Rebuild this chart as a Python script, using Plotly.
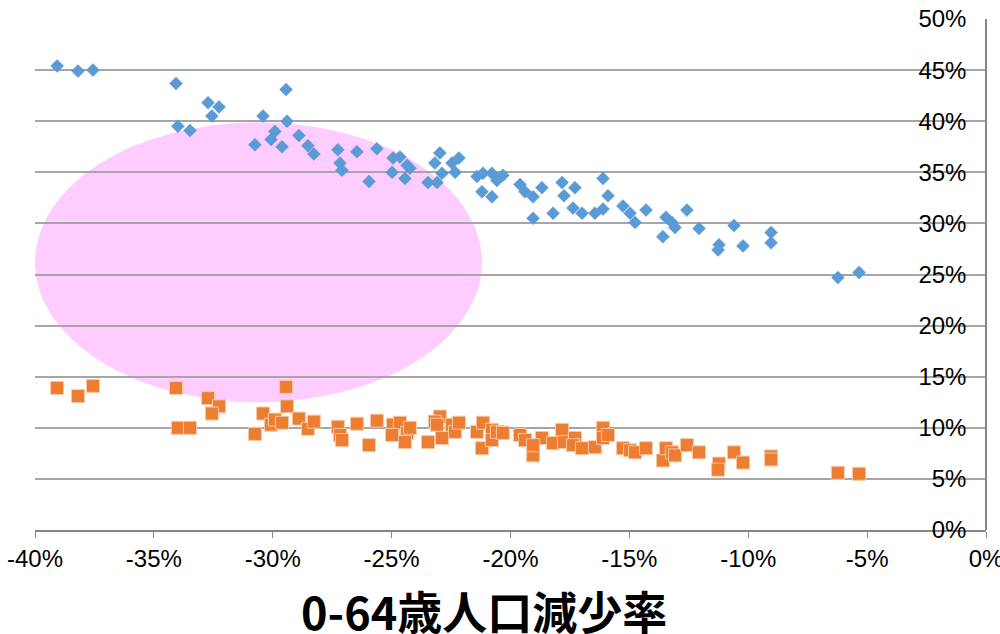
import plotly.graph_objects as go

# 0-64歳人口減少率 (x) vs rates (y), in percent
blue_x = [-39.07, -38.19, -37.56, -34.07, -33.99, -33.48, -32.72, -32.26, -32.56, -30.75,
          -30.41, -30.07, -29.91, -29.61, -29.44, -29.40, -28.90, -28.52, -28.27, -27.26,
          -27.17, -27.09, -26.46, -25.62, -25.95, -24.94, -24.65, -24.35, -24.23, -24.98,
          -24.44, -22.97, -23.18, -22.88, -23.47, -23.09, -22.46, -22.33, -22.17, -21.41,
          -21.16, -21.20, -20.78, -20.78, -20.57, -20.32, -19.60, -19.39, -19.05, -18.68,
          -19.05, -18.21, -17.83, -17.75, -17.29, -17.37, -16.99, -16.45, -16.11, -16.11,
          -15.90, -15.27, -14.97, -14.76, -14.30, -13.59, -13.46, -13.21, -13.08, -12.58,
          -12.07, -11.23, -11.27, -10.60, -10.22, -9.04, -9.04, -6.23, -5.34]
blue_y = [45.4, 44.9, 45.0, 43.7, 39.5, 39.1, 41.8, 41.4, 40.5, 37.7,
          40.5, 38.2, 39.0, 37.5, 43.1, 40.0, 38.6, 37.6, 36.8, 37.2,
          35.9, 35.2, 37.0, 37.3, 34.1, 36.4, 36.5, 35.7, 35.4, 35.0,
          34.4, 36.9, 35.9, 34.9, 34.0, 34.0, 35.9, 35.0, 36.4, 34.6,
          34.9, 33.1, 34.9, 32.6, 34.2, 34.7, 33.8, 33.1, 32.6, 33.5,
          30.5, 31.0, 34.0, 32.7, 33.5, 31.5, 31.0, 31.0, 31.4, 34.4,
          32.7, 31.7, 31.0, 30.1, 31.3, 28.7, 30.6, 30.1, 29.6, 31.3,
          29.5, 27.9, 27.4, 29.8, 27.8, 29.1, 28.1, 24.7, 25.2]

orange_x = blue_x
orange_y = [13.9, 13.1, 14.1, 13.9, 10.0, 10.0, 12.9, 12.1, 11.4, 9.4,
            11.4, 10.3, 10.8, 10.5, 14.0, 12.1, 10.9, 9.9, 10.6, 10.1,
            9.3, 8.8, 10.4, 10.7, 8.3, 10.3, 10.5, 9.5, 10.0, 9.3,
            8.6, 11.1, 10.6, 9.0, 8.6, 10.3, 10.3, 9.6, 10.5, 9.6,
            10.5, 8.0, 9.8, 8.8, 9.6, 9.5, 9.3, 8.8, 7.3, 9.0,
            8.3, 8.5, 9.8, 8.6, 9.0, 8.3, 8.0, 8.1, 10.0, 9.0,
            9.3, 8.0, 7.8, 7.6, 8.0, 6.8, 8.0, 7.6, 7.3, 8.3,
            7.6, 6.5, 5.9, 7.6, 6.6, 7.2, 6.9, 5.6, 5.5]

x_tick_vals = [-40, -35, -30, -25, -20, -15, -10, -5, 0]
x_tick_text = ["-40%", "-35%", "-30%", "-25%", "-20%", "-15%", "-10%", "-5%", "0%"]
y_tick_vals = [0, 5, 10, 15, 20, 25, 30, 35, 40, 45, 50]
y_tick_text = ["0%", "5%", "10%", "15%", "20%", "25%", "30%", "35%", "40%", "45%", "50%"]

x_title = "0-64歳人口減少率"
tick_font = "Liberation Sans Narrow, Arial Narrow, Liberation Sans, sans-serif"

fig = go.Figure()
fig.add_trace(go.Scatter(
    x=blue_x, y=blue_y, mode="markers",
    marker=dict(symbol="diamond", size=10, color="#5B9BD5",
                line=dict(width=0.5, color="#5B9BD5")),
    showlegend=False))
fig.add_trace(go.Scatter(
    x=orange_x, y=orange_y, mode="markers",
    marker=dict(symbol="square", size=13, color="#ED7D31",
                line=dict(width=1, color="#F6C9A8")),
    showlegend=False))

fig.add_shape(type="circle", xref="x", yref="y",
              x0=-40.0, x1=-21.2, y0=12.5, y1=39.9,
              fillcolor="#FFCCFF", line=dict(width=0), layer="below")

fig.add_annotation(text="<b>" + x_title + "</b>", xref="paper", yref="paper",
                   x=0.472, y=-0.158, xanchor="center", yanchor="middle",
                   showarrow=False,
                   font=dict(family="Noto Sans CJK JP", size=45, color="black"))

fig.update_layout(
    width=1000, height=634,
    margin=dict(l=35, r=14, t=19, b=104),
    paper_bgcolor="white", plot_bgcolor="white",
    xaxis=dict(range=[-40, 0], tickvals=x_tick_vals, ticktext=x_tick_text,
               showgrid=False, zeroline=False, showline=True,
               linecolor="#868686", linewidth=1.5,
               ticks="outside", ticklen=6, tickcolor="#868686",
               automargin=False, ticklabeloverflow="allow",
               tickfont=dict(family=tick_font, size=24, color="black")),
    yaxis=dict(range=[0, 50], tickvals=y_tick_vals, ticktext=y_tick_text,
               side="left", anchor="free", position=1.0,
               showgrid=True, gridcolor="#A6A6A6", gridwidth=1.5,
               zeroline=False, showline=True,
               linecolor="#868686", linewidth=1.5,
               ticks="", ticklabelstandoff=14, automargin=False,
               ticklabeloverflow="allow",
               tickfont=dict(family=tick_font, size=24, color="black")),
)

fig.write_html("out.html", config={"displayModeBar": False},
               post_script="document.body.style.margin='0';document.body.style.overflow='hidden';")
